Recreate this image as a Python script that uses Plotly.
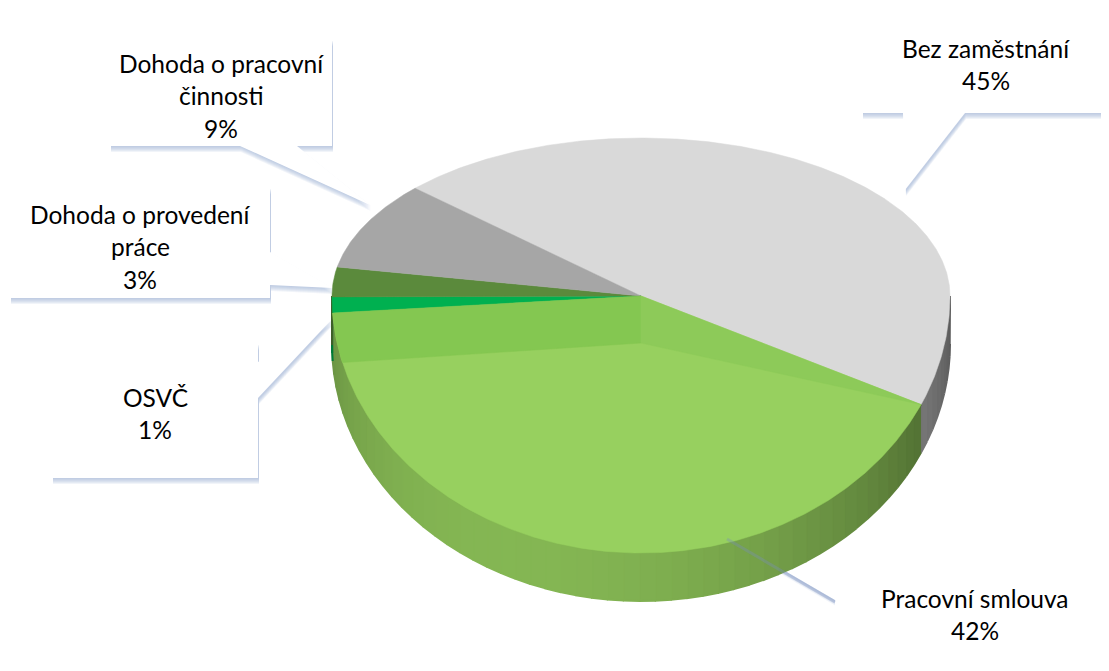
import textwrap
import numpy as np
import plotly.graph_objects as go

# ---- data ----
labels = ["Bez zaměstnání", "Pracovní smlouva", "OSVČ",
          "Dohoda o provedení práce", "Dohoda o pracovní činnosti"]
values = [45, 42, 1, 3, 9]
colors_top = ["#D9D9D9", "#97D05F", "#00B050", "#5B8A3C", "#A6A6A6"]

# ---- geometry of the tilted pie (pixel-like axis units) ----
START = 313.0          # clockwise from 12 o'clock, degrees
CX, CY = 641, 296
A, B_BACK, B_FRONT, DEPTH = 309, 158, 257, 48


def proj(theta_deg, r=1.0, dz=0.0):
    t = np.radians(theta_deg)
    c = np.cos(t)
    b = np.where(c > 0, B_BACK, B_FRONT)
    return CX + r * A * np.sin(t), CY - r * b * c + dz


def shade(hexcol, f):
    h = hexcol.lstrip("#")
    rgb = [int(h[i:i + 2], 16) for i in (0, 2, 4)]
    return "rgb({},{},{})".format(*[max(0, min(255, int(v * f))) for v in rgb])


total = sum(values)
angles = []
acc = START
for v in values:
    span = v / total * 360.0
    angles.append((acc, acc + span))
    acc += span

fig = go.Figure()

# side walls (front half only)
for (s, e), col in zip(angles, colors_top):
    for lo, hi in ((90, 270), (450, 630)):
        a0, a1 = max(s, lo), min(e, hi)
        if a1 <= a0:
            continue
        n = max(1, int(np.ceil((a1 - a0) / 3.0)))
        edges = np.linspace(a0, a1, n + 1)
        for k in range(n):
            th = np.linspace(edges[k], edges[k + 1], 4)
            xt, yt = proj(th)
            xb, yb = proj(th[::-1], dz=DEPTH)
            mid = (edges[k] + edges[k + 1]) / 2.0
            f = 0.55 + 0.33 * np.cos(np.radians(mid - 205))
            c = shade(col, f)
            fig.add_trace(go.Scatter(
                x=np.concatenate([xt, xb]), y=np.concatenate([yt, yb]),
                fill="toself", fillcolor=c, mode="lines",
                line=dict(color=c, width=2), hoverinfo="skip", showlegend=False))

# top faces
for (s, e), col, lab in zip(angles, colors_top, labels):
    th = np.linspace(s, e, max(3, int((e - s) * 2)))
    xa, ya = proj(th)
    fig.add_trace(go.Scatter(
        x=np.concatenate([[CX], xa, [CX]]), y=np.concatenate([[CY], ya, [CY]]),
        fill="toself", fillcolor=col, mode="lines",
        line=dict(color=col, width=0.5), name=lab, hoverinfo="name",
        showlegend=False))

# bevel shading on the largest green slice (derived from its angles)
s_p, e_p = angles[1]
kx, ky = proj(180, r=0.183)
th = np.linspace(e_p - ((e_p - 255) % 360), e_p, 12)
xa, ya = proj(th)
fig.add_trace(go.Scatter(
    x=np.concatenate([[kx], xa, [CX], [kx]]), y=np.concatenate([[ky], ya, [CY], [ky]]),
    fill="toself", fillcolor="#84C751", mode="lines",
    line=dict(color="#84C751", width=0.5), hoverinfo="skip", showlegend=False))
bx_, by_ = proj(s_p)
fig.add_trace(go.Scatter(
    x=[CX, float(bx_), float(kx), CX], y=[CY, float(by_), float(ky), CY],
    fill="toself", fillcolor="#8DCA59", mode="lines",
    line=dict(color="#8DCA59", width=0.5), hoverinfo="skip", showlegend=False))

# ---- callout boxes (layout only) ----
boxes = {
    "Bez zaměstnání": dict(box=(862, 12, 1114, 113), tip=(905, 190),
                           base=((903, 113), (965, 113)), cx=986, y0=48),
    "Pracovní smlouva": dict(box=(835, 549, 1114, 676), tip=(727, 537),
                             base=((835, 556), (835, 600)), cx=975, y0=598),
    "OSVČ": dict(box=(52, 344, 258, 478), tip=(333, 318),
                 base=((258, 362), (258, 398)), cx=155, y0=397),
    "Dohoda o provedení práce": dict(box=(10, 188, 270, 298), tip=(333, 288),
                                     base=((270, 252), (270, 285)), cx=140, y0=214),
    "Dohoda o pracovní činnosti": dict(box=(110, 40, 332, 146), tip=(370, 205),
                                       base=((240, 146), (297, 146)), cx=221, y0=63),
}
LINE_H = 32.5
SHADOW = "rgba(150,170,212,0.13)"
shapes, annots = [], []
for lab, v in zip(labels, values):
    b = boxes[lab]
    x0, y0, x1, y1 = b["box"]
    (bx0, by0), (bx1, by1) = b["base"]
    tx, ty = b["tip"]
    # soft shadow: stacked translucent copies offset downward
    for k in range(1, 7):
        shapes.append(dict(type="rect", x0=x0 + 1, y0=y0 + k, x1=x1 + 1, y1=y1 + k,
                           xref="x", yref="y", fillcolor=SHADOW,
                           line=dict(width=0), layer="below"))
        shapes.append(dict(type="path",
                           path=f"M{bx0+1},{by0+k} L{tx+1},{ty+k} L{bx1+1},{by1+k} Z",
                           xref="x", yref="y", fillcolor=SHADOW,
                           line=dict(width=0), layer="below"))
    shapes.append(dict(type="path",
                       path=f"M{bx0},{by0} L{tx},{ty} L{bx1},{by1} Z",
                       xref="x", yref="y", fillcolor="white",
                       line=dict(width=0), layer="below"))
    shapes.append(dict(type="rect", x0=x0, y0=y0, x1=x1, y1=y1,
                       xref="x", yref="y", fillcolor="white",
                       line=dict(width=0), layer="below"))
    lines = textwrap.wrap(lab, width=18) + [f"{round(v / total * 100)}%"]
    for i, t in enumerate(lines):
        annots.append(dict(x=b["cx"], y=b["y0"] + i * LINE_H, xref="x", yref="y",
                           text=t, showarrow=False, xanchor="center", yanchor="middle",
                           font=dict(family="Lato, Open Sans, sans-serif",
                                     size=24.5, color="#000000")))

# faint leader shadow crossing the pie for the bottom label
b = boxes["Pracovní smlouva"]
shapes.append(dict(type="line", x0=b["tip"][0], y0=b["tip"][1] + 2,
                   x1=b["base"][1][0], y1=b["base"][1][1] + 2, xref="x", yref="y",
                   line=dict(color="rgba(120,140,190,0.35)", width=3), layer="above"))

fig.update_layout(
    width=1101, height=663, autosize=False,
    margin=dict(l=0, r=0, t=0, b=0),
    paper_bgcolor="white", plot_bgcolor="white",
    xaxis=dict(range=[8, 1109], visible=False, fixedrange=True),
    yaxis=dict(range=[671, 8], visible=False, fixedrange=True),
    shapes=shapes, annotations=annots, showlegend=False,
)
fig.write_html("out.html")
